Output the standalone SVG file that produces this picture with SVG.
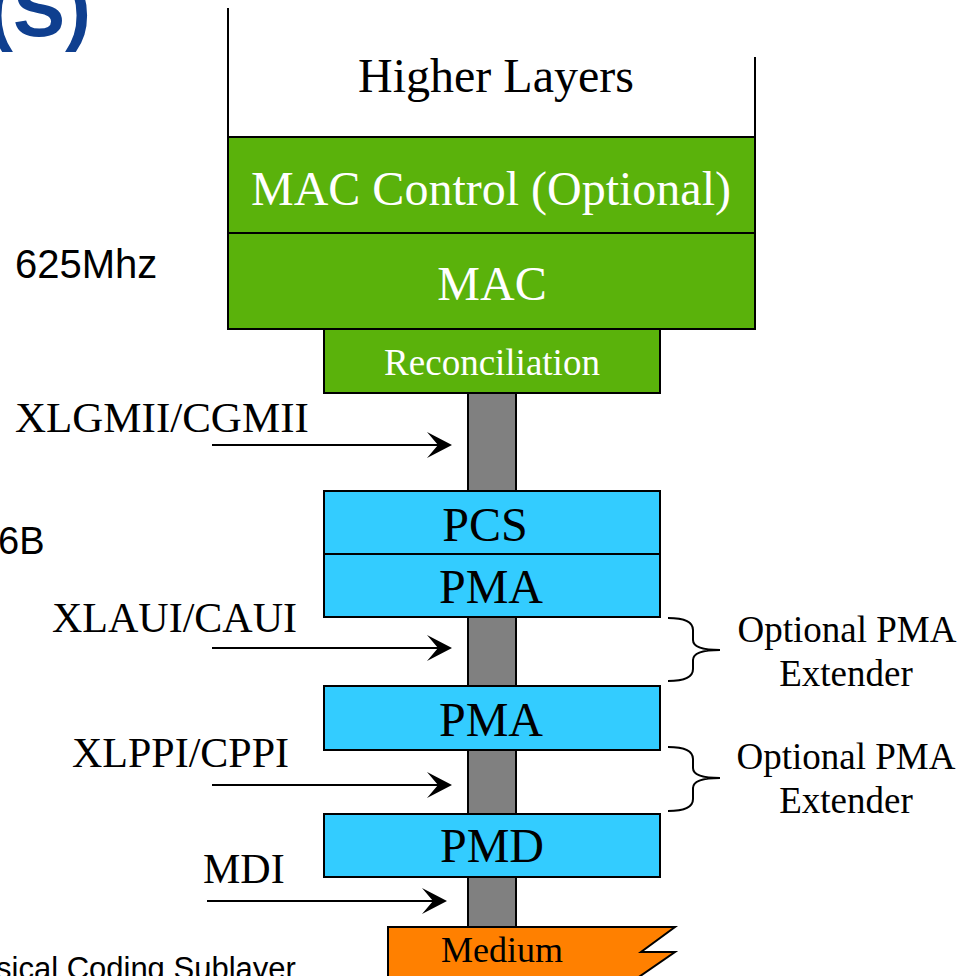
<svg xmlns="http://www.w3.org/2000/svg" width="971" height="976" viewBox="0 0 971 976">
  <style>
    .serif { font-family: "Liberation Serif", "Times New Roman", serif; }
    .sans { font-family: "Liberation Sans", Arial, sans-serif; }
    .box { stroke: #000; stroke-width: 2; }
    .mac { fill: #5AB20B; }
    .phy { fill: #33CCFF; }
    .wlabel { fill: #fff; text-anchor: middle; }
    .blabel { fill: #000; text-anchor: middle; }
    .arrow { stroke: #000; stroke-width: 2; fill: none; marker-end: url(#head); }
    .brace { stroke: #000; stroke-width: 2; fill: none; }
  </style>
  <defs>
    <marker id="head" markerUnits="userSpaceOnUse" viewBox="0 0 26 26" markerWidth="26" markerHeight="26" refX="18" refY="13" orient="auto">
      <path d="M0,0 L25,13 L0,26 L11,13 Z" fill="#000"/>
    </marker>
  </defs>

  <rect width="971" height="976" fill="#fff"/>

  <!-- fragments of the surrounding slide -->
  <text class="sans" x="-13" y="36" font-size="78" font-weight="bold" fill="#0F3F8F">(S)</text>
  <text class="sans" x="15" y="278" font-size="40" fill="#000">625Mhz</text>
  <text class="sans" x="-2" y="554" font-size="38" fill="#000">6B</text>
  <text class="sans" x="-4" y="979" font-size="31" fill="#000">sical Coding Sublayer</text>

  <!-- link between sublayers -->
  <g id="bus">
    <rect x="468" y="393" width="48" height="534" fill="#808080" stroke="#000" stroke-width="2"/>
  </g>

  <g id="higher-layers">
    <path d="M228,8 V137 M755,57 V137" stroke="#000" stroke-width="2" fill="none"/>
    <text class="serif blabel" x="496" y="92" font-size="48">Higher Layers</text>
  </g>

  <g id="mac-control">
    <rect class="box mac" x="228" y="137" width="527" height="96"/>
    <text class="serif wlabel" x="491" y="205" font-size="48">MAC Control (Optional)</text>
  </g>

  <g id="mac">
    <rect class="box mac" x="228" y="233" width="527" height="96"/>
    <text class="serif wlabel" x="492" y="300" font-size="48">MAC</text>
  </g>

  <g id="reconciliation">
    <rect class="box mac" x="324" y="329" width="336" height="64"/>
    <text class="serif wlabel" x="492" y="375" font-size="37">Reconciliation</text>
  </g>

  <g id="pcs">
    <rect class="box phy" x="324" y="491" width="336" height="63"/>
    <text class="serif blabel" x="485" y="541" font-size="48">PCS</text>
  </g>

  <g id="pma-1">
    <rect class="box phy" x="324" y="554" width="336" height="63"/>
    <text class="serif blabel" x="491" y="603" font-size="48">PMA</text>
  </g>

  <g id="pma-2">
    <rect class="box phy" x="324" y="686" width="336" height="64"/>
    <text class="serif blabel" x="491" y="736" font-size="48">PMA</text>
  </g>

  <g id="pmd">
    <rect class="box phy" x="324" y="814" width="336" height="63"/>
    <text class="serif blabel" x="492" y="862" font-size="48">PMD</text>
  </g>

  <g id="medium">
    <path d="M388,990 V927 H675 L641,952 H675 L620,990 Z" fill="#FF8000" stroke="#000" stroke-width="2"/>
    <text class="serif blabel" x="502" y="962" font-size="36">Medium</text>
  </g>

  <g id="interface-labels">
    <text class="serif" x="15" y="432" font-size="43">XLGMII/CGMII</text>
    <text class="serif" x="52" y="632" font-size="42">XLAUI/CAUI</text>
    <text class="serif" x="72" y="767" font-size="42">XLPPI/CPPI</text>
    <text class="serif" x="203" y="883" font-size="42">MDI</text>
  </g>

  <g id="connectors">
    <line class="arrow" x1="212" y1="445" x2="445" y2="445"/>
    <line class="arrow" x1="212" y1="648" x2="445" y2="648"/>
    <line class="arrow" x1="212" y1="785" x2="445" y2="785"/>
    <line class="arrow" x1="207" y1="901" x2="440" y2="901"/>
  </g>

  <g id="pma-extender-1">
    <path class="brace" d="M668,618 Q693,618 693,630 V640 Q693,650 720,650 Q693,650 693,660 V669 Q693,681 668,681"/>
    <text class="serif blabel" x="847" y="642" font-size="37">Optional PMA</text>
    <text class="serif blabel" x="846" y="686" font-size="37">Extender</text>
  </g>

  <g id="pma-extender-2">
    <path class="brace" d="M668,747 Q693,747 693,759 V768 Q693,778 720,778 Q693,778 693,788 V799 Q693,811 668,811"/>
    <text class="serif blabel" x="846" y="769" font-size="37">Optional PMA</text>
    <text class="serif blabel" x="846" y="813" font-size="37">Extender</text>
  </g>
</svg>
